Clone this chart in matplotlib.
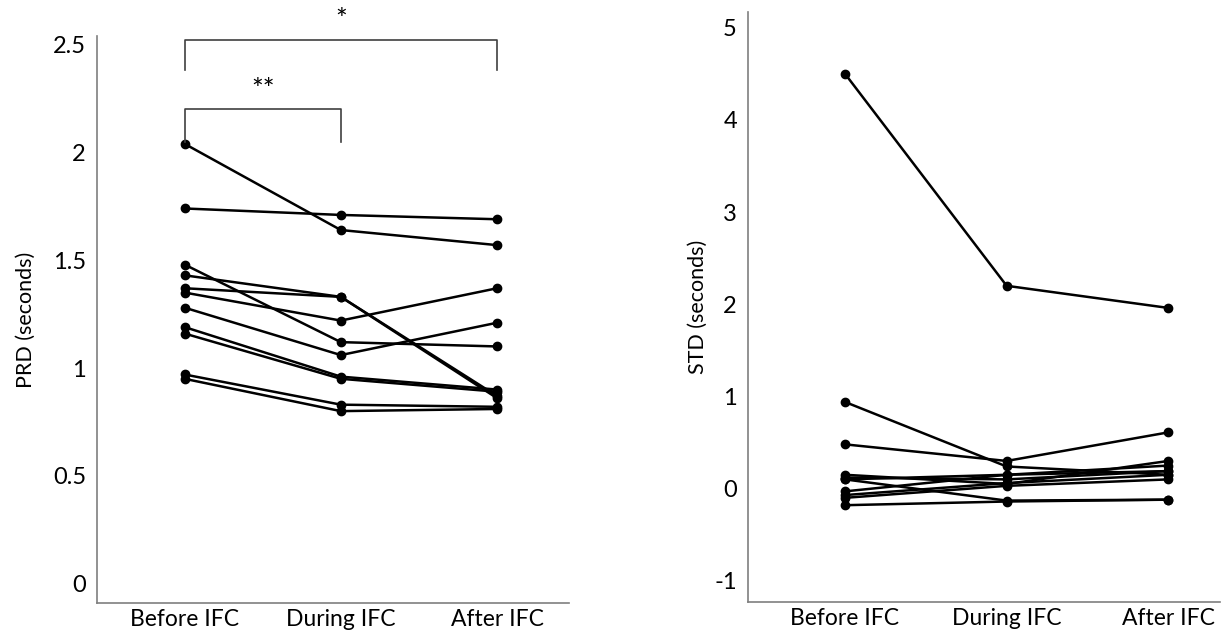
import matplotlib.pyplot as plt

plt.rcParams['font.family'] = ['Lato', 'DejaVu Sans']

phases = ["Before IFC", "During IFC", "After IFC"]

# PRD per subject (seconds): before, during, after
prd_before = [2.04, 1.74, 1.48, 1.43, 1.37, 1.35, 1.28, 1.19, 1.16, 0.97, 0.95]
prd_during = [1.64, 1.71, 1.12, 1.33, 1.33, 1.22, 1.06, 0.96, 0.95, 0.83, 0.80]
prd_after = [1.57, 1.69, 1.10, 0.87, 0.86, 1.37, 1.21, 0.90, 0.89, 0.82, 0.81]

# STD per subject (seconds)
std_before = [4.50, 0.94, 0.48, 0.15, 0.12, 0.10, -0.03, -0.07, -0.10, -0.18, 0.10]
std_during = [2.20, 0.24, 0.30, 0.05, 0.10, -0.13, 0.15, 0.06, 0.03, -0.14, 0.15]
std_after = [1.96, 0.15, 0.61, 0.30, 0.19, -0.12, 0.19, 0.15, 0.10, -0.12, 0.25]

prd_ticks = [0, 0.5, 1, 1.5, 2, 2.5]
std_ticks = [-1, 0, 1, 2, 3, 4, 5]

fig = plt.figure(figsize=(12.25, 6.34), dpi=100)
W, H = 1225, 634
ax1 = fig.add_axes([97 / W, 1 - 603 / H, (569 - 97) / W, (603 - 36) / H])
ax2 = fig.add_axes([748 / W, 1 - 602 / H, (1220 - 748) / W, (602 - 12) / H])

x = [0, 1, 2]


def style(ax, ticks, labels, ylabel):
    for s in ["top", "right"]:
        ax.spines[s].set_visible(False)
    for s in ["left", "bottom"]:
        ax.spines[s].set_color("#7f7f7f")
        ax.spines[s].set_linewidth(1.2)
    ax.set_xticks(x)
    ax.set_xticklabels(phases, fontsize=16.5)
    ax.set_yticks(ticks)
    ax.set_yticklabels(labels, fontsize=17)
    ax.tick_params(axis="y", length=0, pad=8)
    ax.tick_params(axis="x", length=0, pad=4)
    ax.set_ylabel(ylabel, fontsize=15.5)


for b, d, a in zip(prd_before, prd_during, prd_after):
    ax1.plot(x, [b, d, a], color="black", lw=1.8, marker="o", ms=6)
ax1.set_xlim(-0.56, 2.46)
ax1.set_ylim(-0.09, 2.54)
style(ax1, prd_ticks, ["0", "0.5", "1", "1.5", "2", "2.5"], "PRD (seconds)")
ax1.yaxis.set_label_coords(-0.13, 0.5)

# significance brackets
br = dict(color="#404040", lw=1.2, clip_on=False)
ax1.plot([0, 0, 2, 2], [2.38, 2.52, 2.52, 2.38], **br)
ax1.text(1, 2.55, "*", ha="center", va="bottom", fontsize=20, clip_on=False)
ax1.plot([0, 0, 1, 1], [2.05, 2.20, 2.20, 2.05], **br)
ax1.text(0.5, 2.225, "**", ha="center", va="bottom", fontsize=20)

for b, d, a in zip(std_before, std_during, std_after):
    ax2.plot(x, [b, d, a], color="black", lw=1.8, marker="o", ms=6)
ax2.set_xlim(-0.60, 2.32)
ax2.set_ylim(-1.23, 5.17)
style(ax2, std_ticks, ["-1", "0", "1", "2", "3", "4", "5"], "STD (seconds)")
ax2.yaxis.set_label_coords(-0.085, 0.5)

fig.savefig("out.png", dpi=100)
